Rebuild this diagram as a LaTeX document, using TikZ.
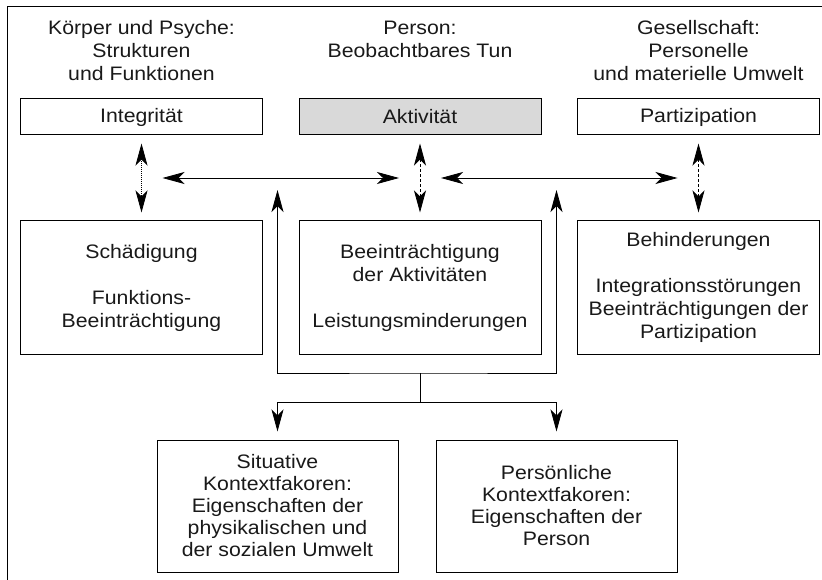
\documentclass[tikz,border=0pt]{standalone}
\usepackage{fontspec}
\setmainfont[FakeStretch=1.09]{Liberation Sans}
\usetikzlibrary{arrows.meta, positioning}
\tikzstyle{block} = [rectangle, draw, line width=1pt, minimum width=242pt,
    inner sep=0pt, align=center]
\tikzstyle{title} = [align=center, anchor=north, inner sep=0pt]

\begin{document}
\begin{tikzpicture}[
x = 1pt, y = -1pt,
font = \fontsize{19.5}{23}\selectfont,
text = black!90,
>={Stealth[length=22pt, width=12pt, inset=6pt]},
link/.style = {line width=0.8pt},
dots/.style = {link, dash pattern=on 0.8pt off 1.2pt},
dashes/.style = {link, dash pattern=on 3pt off 2pt}
                        ]
\useasboundingbox (0,0) rectangle (822,580);
\draw[line width=1pt] (7,580) -- (7,7) -- (822,7);

% titles
\node [title] (tkp) at (141.5,20.5) {Körper und Psyche:\\Strukturen\\und Funktionen};
\node [title] (tpe) at (420,20.5) {Person:\\Beobachtbares Tun};
\node [title] (tge) at (698.5,20.5) {Gesellschaft:\\Personelle\\und materielle Umwelt};

% top row
\node [block, minimum height=36pt] (int) at (141.5,117) {Integrität};
\node [block, minimum height=36pt, fill=black!15] (akt) at (420,117) {Aktivität};
\node [block, minimum height=36pt] (par) at (698.5,117) {Partizipation};

% middle row
\node [block, minimum height=133pt, below=85pt of int] (sch)
	{Schädigung\\[23pt]Funktions-\\Beeinträchtigung};
\node [block, minimum height=133pt, below=85pt of akt] (bee)
	{Beeinträchtigung\\der Aktivitäten\\[23pt]Leistungsminderungen};
\node [block, minimum height=133pt, below=85pt of par] (beh)
	{Behinderungen\\[23pt]Integrationsstörungen\\Beeinträchtigungen der\\Partizipation};

% bottom row
\node [block, minimum width=241pt, minimum height=132pt,
	font=\fontsize{19.5}{22}\selectfont] (sit) at (277.5,506)
	{Situative\\Kontextfakoren:\\Eigenschaften der\\physikalischen und\\der sozialen Umwelt};
\node [block, minimum width=241pt, minimum height=132pt,
	font=\fontsize{19.5}{22}\selectfont] (per) at (556.5,506)
	{Persönliche\\Kontextfakoren:\\Eigenschaften der\\Person};

% vertical links
\draw [dots, <->, shorten <=8pt, shorten >=8pt] (int.south) -- (sch.north)
	coordinate[midway] (m1);
\draw [dashes, <->, shorten <=8pt, shorten >=8pt] (akt.south) -- (bee.north)
	coordinate[midway] (m2);
\draw [dashes, <->, shorten <=8pt, shorten >=8pt] (par.south) -- (beh.north)
	coordinate[midway] (m3);

% horizontal links
\draw [link, <->, shorten <=21pt, shorten >=21pt] (m1) -- (m2);
\draw [link, <->, shorten <=21pt, shorten >=21pt] (m2) -- (m3);

% context factors
\coordinate (upl) at (277.5,190);
\coordinate (upr) at (556.5,190);
\coordinate (knot) at (420,373);
\coordinate (fork) at (420,402);
\draw [link, <->] (upl) |- (knot) -| (upr);
\draw [link] (knot) -- (fork);
\draw [link, ->, shorten >=8pt] (fork) -| (sit);
\draw [link, ->, shorten >=8pt] (fork) -| (per);
\end{tikzpicture}
\end{document}
